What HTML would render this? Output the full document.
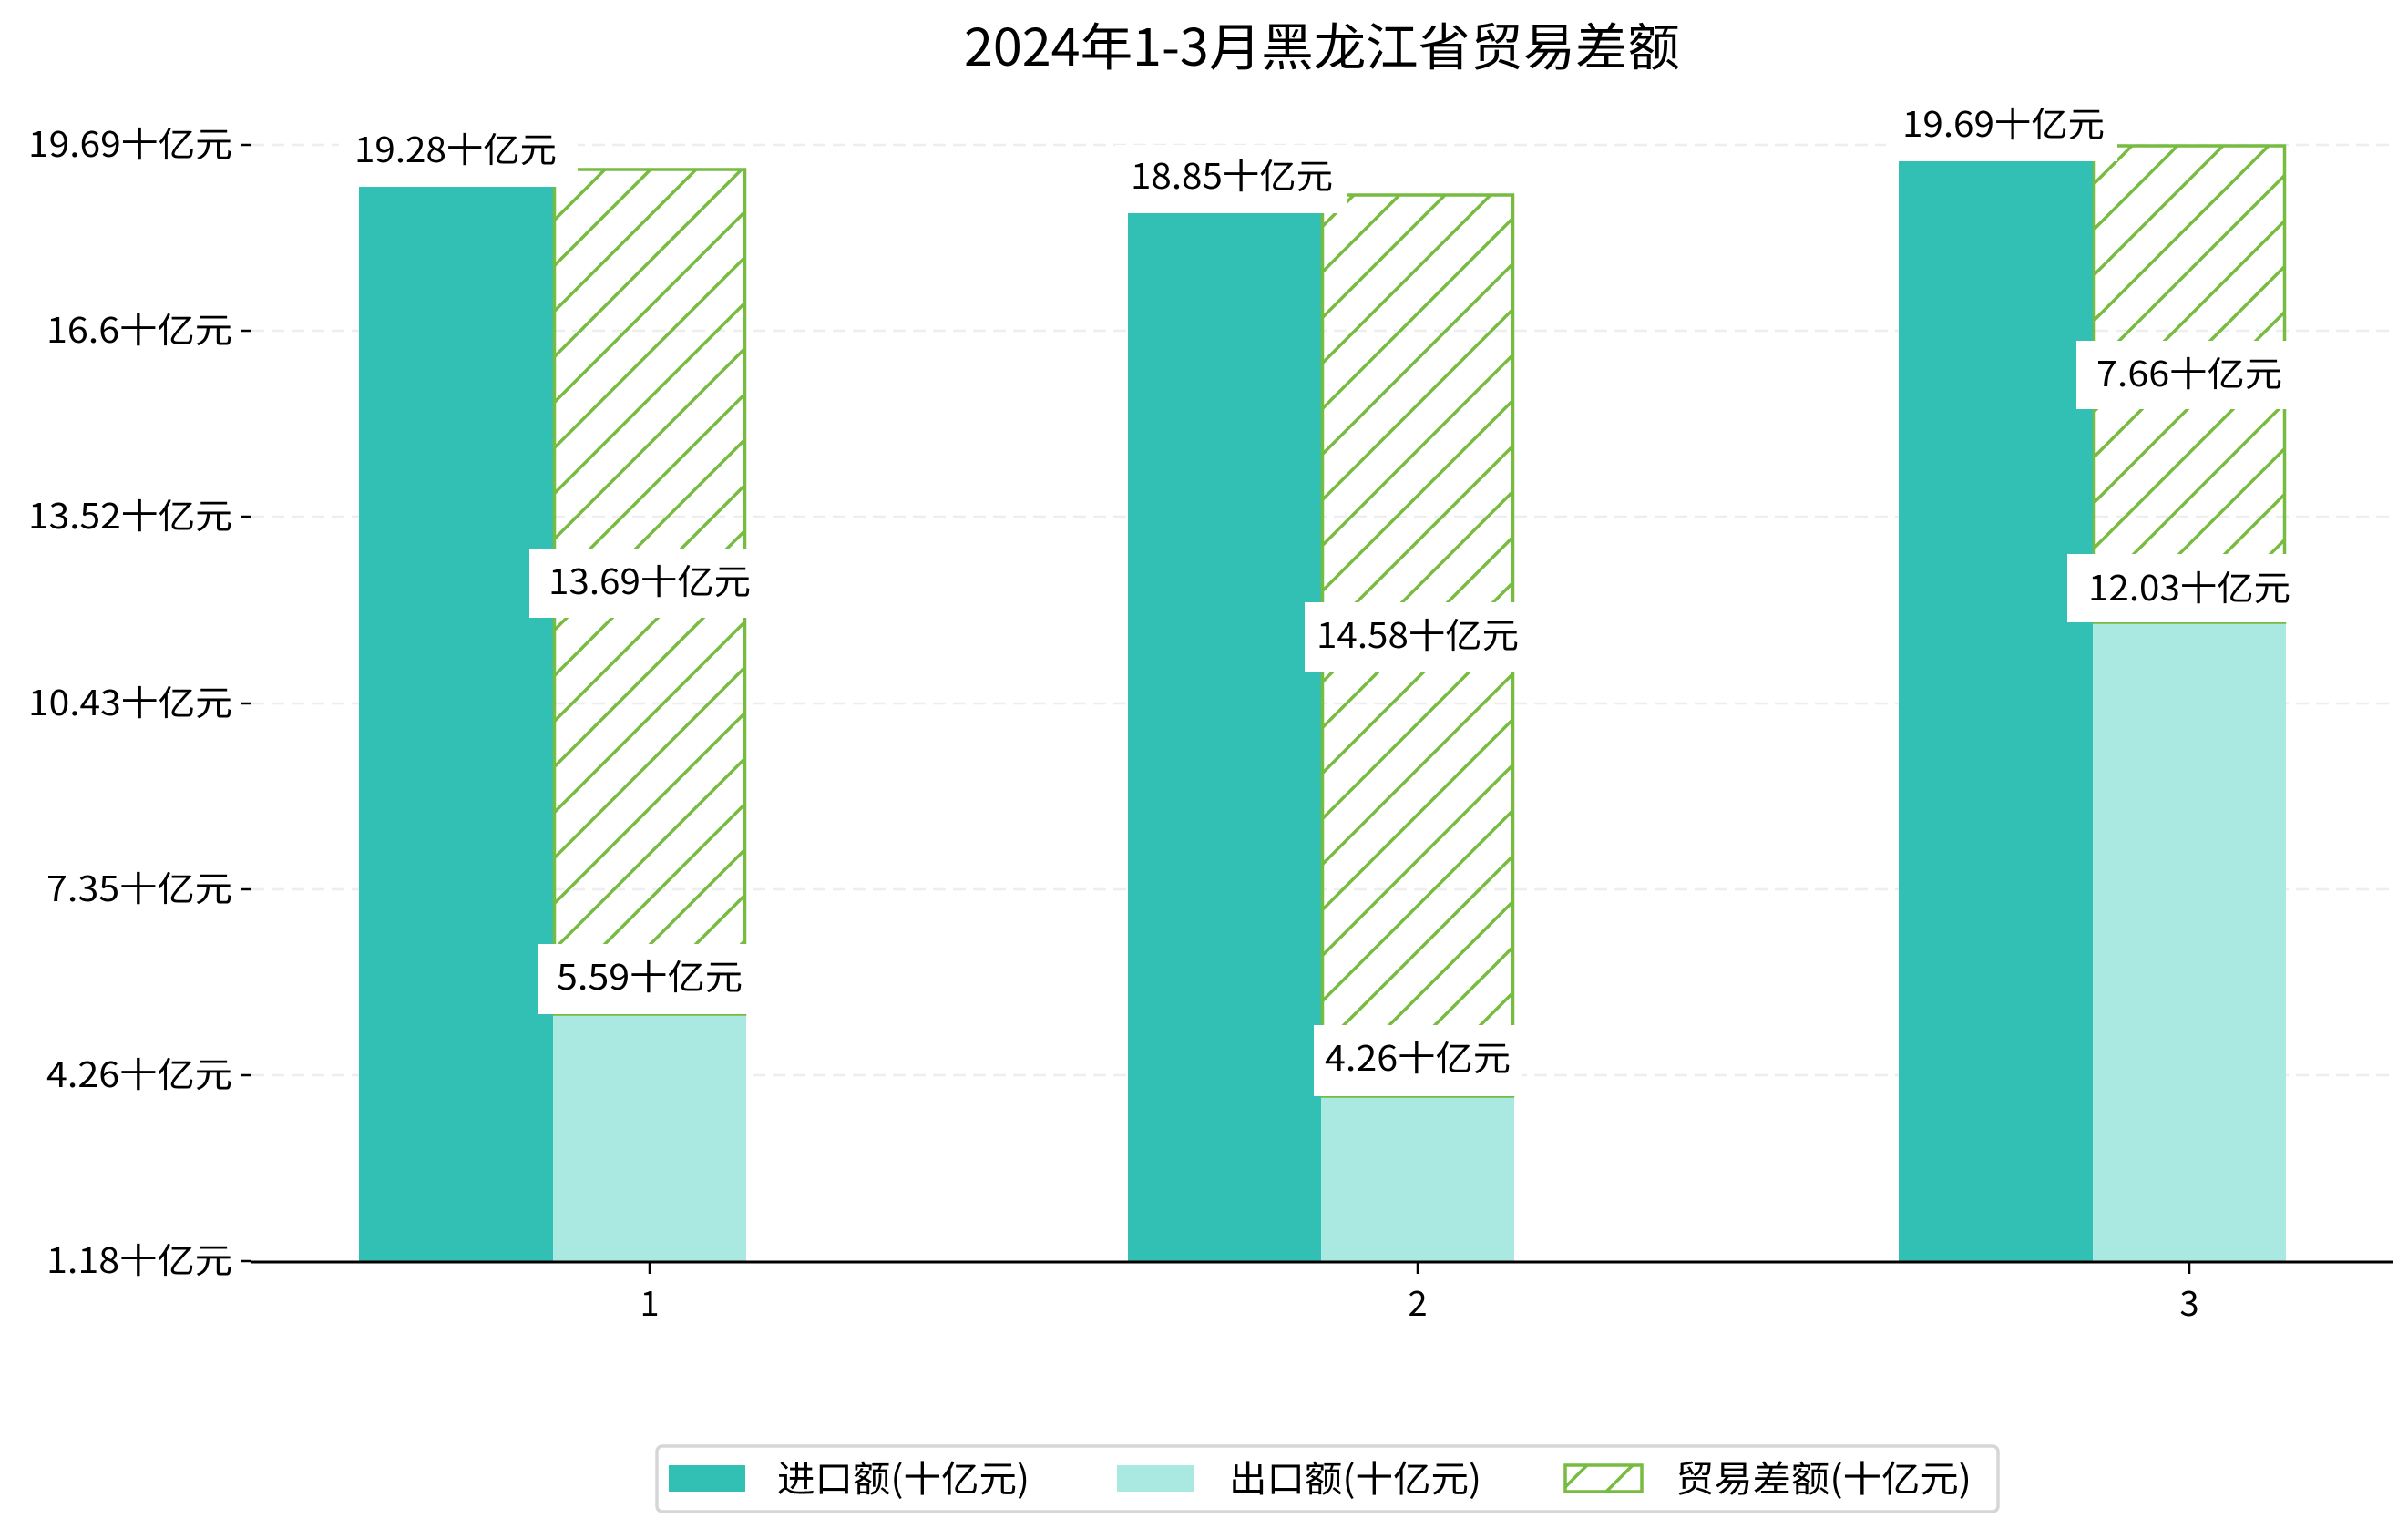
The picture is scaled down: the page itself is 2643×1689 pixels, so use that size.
<!DOCTYPE html>
<html><head><meta charset="utf-8"><style>
html,body{margin:0;padding:0;background:#fff;}
svg{display:block;}
text{font-family:"WenQuanYi Zen Hei","Noto Sans CJK SC",sans-serif;fill:#000;}
</style></head><body>
<svg width="2643" height="1689" viewBox="0 0 2643 1689" xmlns="http://www.w3.org/2000/svg">
<defs>
<pattern id="h" patternUnits="userSpaceOnUse" width="50" height="50">
<path d="M-10,60 L60,-10 M-60,60 L60,-60 M-10,110 L110,-10" stroke="#77bb41" stroke-width="3.5"/>
</pattern>
</defs>
<text x="1451" y="72" font-size="56" text-anchor="middle" textLength="786" lengthAdjust="spacingAndGlyphs">2024年1-3月黑龙江省贸易差额</text>
<g stroke="#eeeeee" stroke-width="2.5" stroke-dasharray="14,8">
<line x1="276" y1="159" x2="2626" y2="159"/>
<line x1="276" y1="363" x2="2626" y2="363"/>
<line x1="276" y1="567" x2="2626" y2="567"/>
<line x1="276" y1="772" x2="2626" y2="772"/>
<line x1="276" y1="976" x2="2626" y2="976"/>
<line x1="276" y1="1180" x2="2626" y2="1180"/>
</g>
<g stroke="#000" stroke-width="2.5">
<line x1="264" y1="159" x2="276" y2="159"/><line x1="264" y1="363" x2="276" y2="363"/>
<line x1="264" y1="567" x2="276" y2="567"/><line x1="264" y1="772" x2="276" y2="772"/>
<line x1="264" y1="976" x2="276" y2="976"/><line x1="264" y1="1180" x2="276" y2="1180"/>
<line x1="264" y1="1384" x2="276" y2="1384"/>
</g>
<g font-size="38" text-anchor="end">
<text x="255" y="172" textLength="224" lengthAdjust="spacingAndGlyphs">19.69十亿元</text>
<text x="255" y="376" textLength="204" lengthAdjust="spacingAndGlyphs">16.6十亿元</text>
<text x="255" y="580" textLength="224" lengthAdjust="spacingAndGlyphs">13.52十亿元</text>
<text x="255" y="785" textLength="224" lengthAdjust="spacingAndGlyphs">10.43十亿元</text>
<text x="255" y="989" textLength="204" lengthAdjust="spacingAndGlyphs">7.35十亿元</text>
<text x="255" y="1193" textLength="204" lengthAdjust="spacingAndGlyphs">4.26十亿元</text>
<text x="255" y="1397" textLength="204" lengthAdjust="spacingAndGlyphs">1.18十亿元</text>
</g>
<rect x="394" y="205" width="213" height="1179" fill="#31c0b3"/>
<rect x="1238" y="234" width="212" height="1150" fill="#31c0b3"/>
<rect x="2084" y="177" width="213" height="1207" fill="#31c0b3"/>
<rect x="607" y="1113" width="212" height="271" fill="#aae8e2"/>
<rect x="1450" y="1203" width="212" height="181" fill="#aae8e2"/>
<rect x="2297" y="683" width="212" height="701" fill="#aae8e2"/>
<rect x="608.5" y="186" width="209" height="927" fill="url(#h)" stroke="#77bb41" stroke-width="3.5"/>
<rect x="1451.5" y="214" width="209" height="989" fill="url(#h)" stroke="#77bb41" stroke-width="3.5"/>
<rect x="2298.5" y="160" width="209" height="523" fill="url(#h)" stroke="#77bb41" stroke-width="3.5"/>
<g fill="#fff">
<rect x="372" y="130" width="262" height="75"/>
<rect x="1224" y="159" width="254" height="75"/>
<rect x="2070" y="102" width="254" height="75"/>
<rect x="581" y="603" width="244" height="75"/>
<rect x="591" y="1036" width="231" height="77"/>
<rect x="1432" y="661" width="248" height="76"/>
<rect x="1442" y="1125" width="228" height="78"/>
<rect x="2279" y="374" width="231" height="75"/>
<rect x="2269" y="608" width="244" height="75"/>
</g>
<g font-size="38" text-anchor="middle">
<text x="500" y="178" textLength="222" lengthAdjust="spacingAndGlyphs">19.28十亿元</text>
<text x="1352" y="207" textLength="222" lengthAdjust="spacingAndGlyphs">18.85十亿元</text>
<text x="2199" y="150" textLength="222" lengthAdjust="spacingAndGlyphs">19.69十亿元</text>
<text x="713" y="652" textLength="222" lengthAdjust="spacingAndGlyphs">13.69十亿元</text>
<text x="713" y="1086" textLength="204" lengthAdjust="spacingAndGlyphs">5.59十亿元</text>
<text x="1556" y="711" textLength="222" lengthAdjust="spacingAndGlyphs">14.58十亿元</text>
<text x="1556" y="1175" textLength="204" lengthAdjust="spacingAndGlyphs">4.26十亿元</text>
<text x="2403" y="424" textLength="204" lengthAdjust="spacingAndGlyphs">7.66十亿元</text>
<text x="2403" y="659" textLength="222" lengthAdjust="spacingAndGlyphs">12.03十亿元</text>
</g>
<line x1="276" y1="1385" x2="2626" y2="1385" stroke="#000" stroke-width="3"/>
<g stroke="#000" stroke-width="2.5">
<line x1="713" y1="1385" x2="713" y2="1398"/>
<line x1="1556" y1="1385" x2="1556" y2="1398"/>
<line x1="2403" y1="1385" x2="2403" y2="1398"/>
</g>
<g font-size="38" text-anchor="middle">
<text x="713" y="1444">1</text><text x="1556" y="1444">2</text><text x="2403" y="1444">3</text>
</g>
<rect x="721" y="1587" width="1472" height="72" rx="6" fill="#fff" stroke="#d6d6d6" stroke-width="3.5"/>
<rect x="734" y="1608" width="84" height="29" fill="#31c0b3"/>
<rect x="1226" y="1608" width="84" height="29" fill="#aae8e2"/>
<rect x="1718" y="1608" width="84" height="29" fill="url(#h)" stroke="#77bb41" stroke-width="3.5"/>
<g font-size="40">
<text x="853" y="1637" textLength="277" lengthAdjust="spacingAndGlyphs">进口额(十亿元)</text>
<text x="1349" y="1637" textLength="277" lengthAdjust="spacingAndGlyphs">出口额(十亿元)</text>
<text x="1839" y="1637" textLength="325" lengthAdjust="spacingAndGlyphs">贸易差额(十亿元)</text>
</g>
</svg>
</body></html>
